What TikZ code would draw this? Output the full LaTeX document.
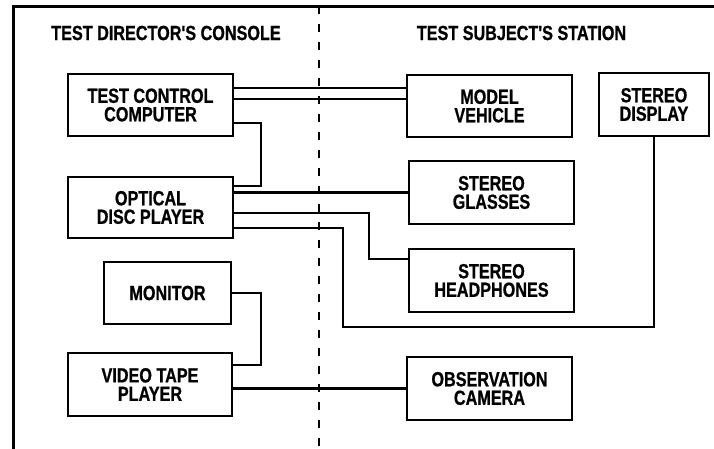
\documentclass[tikz,border=0pt]{standalone}
\usepackage{fontspec}
\newfontfamily\lab{Liberation Sans}[FakeStretch=0.79, FakeBold=0.8]
\usetikzlibrary{calc}
\tikzset{
  lbl/.style={font=\lab\bfseries\fontsize{20.5}{18.5}\selectfont, align=center, inner sep=0pt},
  box/.style={lbl, draw, line width=2.8pt},
  wire/.style={line width=2.6pt, line join=miter},
  frame/.style={line width=3pt},
  divider/.style={line width=2.8pt, dash pattern=on 8pt off 10pt}
}
\begin{document}
\begin{tikzpicture}[x=1pt,y=-1pt]
\useasboundingbox (0,0) rectangle (714,448);
% frame and divider
\coordinate (ftl) at (13,6);
\coordinate (ftr) at (716,6);
\coordinate (fbl) at (13,450);
\draw[frame] (ftr) -- (ftl) -- (fbl);
\coordinate (dtop) at (319,6);
\coordinate (dbot) at (319,450);
\draw[divider] (dtop) -- (dbot);
% titles
\node[lbl] (t1) at (166,33) {TEST DIRECTOR'S CONSOLE};
\node[lbl] (t2) at (521.5,33) {TEST SUBJECT'S STATION};
% boxes
\node[box, minimum width=165, minimum height=62] (tcc) at (150.5,105) {TEST CONTROL\\COMPUTER};
\node[box, minimum width=165, minimum height=61] (odp) at (150.5,207.5) {OPTICAL\\DISC PLAYER};
\node[box, minimum width=127, minimum height=62] (mon) at (167.5,293) {MONITOR};
\node[box, minimum width=164, minimum height=63] (vtp) at (150,384.5) {VIDEO TAPE\\PLAYER};
\node[box, minimum width=165, minimum height=62] (mv) at (489.5,106) {MODEL\\VEHICLE};
\node[box, minimum width=110, minimum height=63] (sd) at (654,104.5) {STEREO\\DISPLAY};
\node[box, minimum width=165, minimum height=63] (sg) at (491.5,192.5) {STEREO\\GLASSES};
\node[box, minimum width=165, minimum height=63] (sh) at (491.5,280.5) {STEREO\\HEADPHONES};
\node[box, minimum width=165, minimum height=63] (oc) at (489.5,388.5) {OBSERVATION\\CAMERA};
% bend points
\coordinate (b1) at (261,150);
\coordinate (b2) at (369,230);
\coordinate (b3) at (343,327);
\coordinate (b4) at (261,330);
% connectors
\draw[wire] ([yshift=17pt]tcc.east) -- ([yshift=17pt]tcc.east -| mv.west);
\draw[wire] ([yshift=6pt]tcc.east) -- ([yshift=6pt]tcc.east -| mv.west);
\draw[wire] ([yshift=-18pt]tcc.east) -| (b1) |- ([yshift=21.5pt]odp.east);
\draw[wire] (odp.east |- sg.west) -- (sg.west);
\draw[wire] ([yshift=-5.5pt]odp.east) -| (b2) |- ([yshift=21.5pt]sh.west);
\draw[wire] ([yshift=-20.5pt]odp.east) -| (b3) -| (sd.south);
\draw[wire] (mon.east) -| (b4) |- ([yshift=19.5pt]vtp.east);
\draw[wire] (vtp.east |- oc.west) -- (oc.west);
\end{tikzpicture}
\end{document}
